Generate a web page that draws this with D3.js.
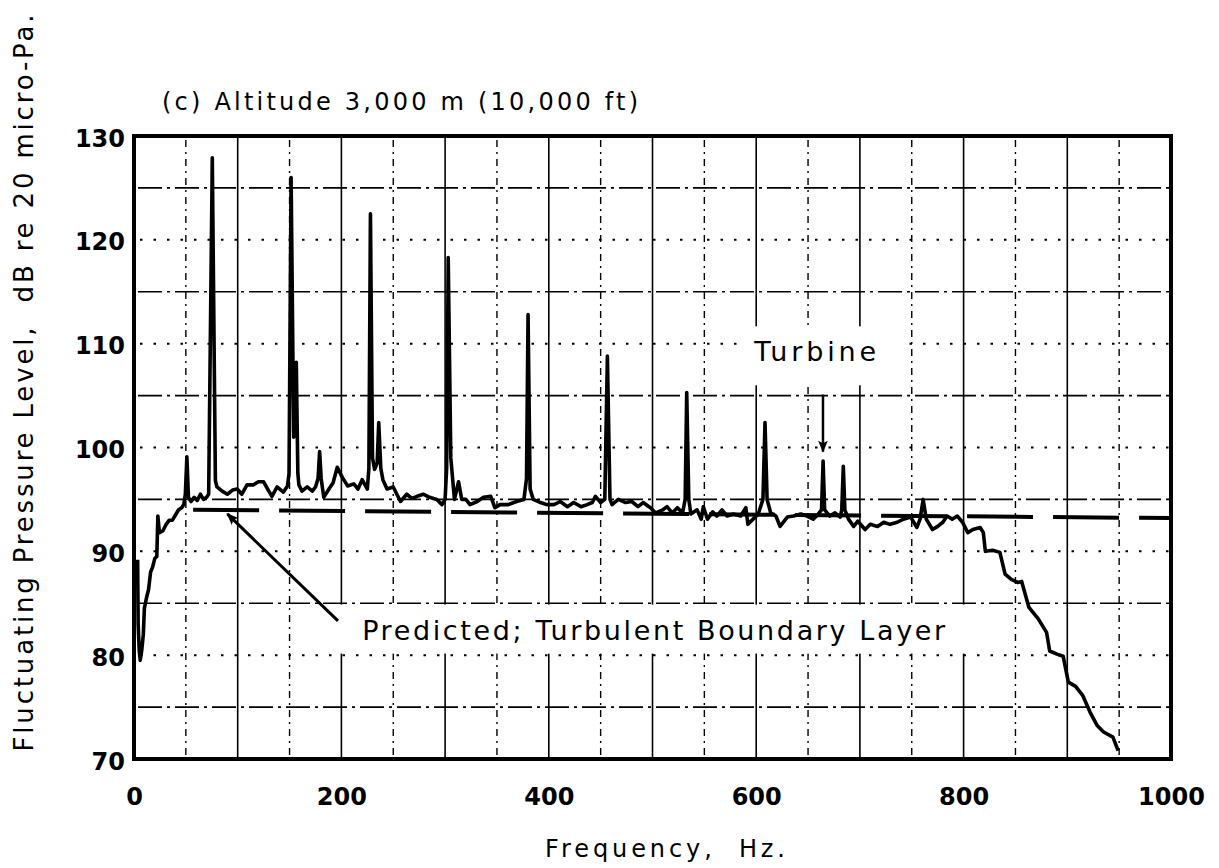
<!DOCTYPE html>
<html>
<head>
<meta charset="utf-8">
<script src="https://cdn.jsdelivr.net/npm/d3@7"></script>
<style>
  html, body { margin: 0; padding: 0; background: #fff; }
  svg { display: block; }
  text { font-family: "DejaVu Sans", sans-serif; fill: #000; }
</style>
</head>
<body>
<svg id="chart" width="1219" height="868"></svg>
<script>
// ---- data ----
const freqHz = [
  3.5, 4, 5, 6, 7.5, 9, 10, 12, 14, 16, 18, 20, 22, 23, 24.5, 28, 31, 34, 37, 40, 43, 46, 48, 49.5,
  51, 52.5, 55, 58, 61, 64, 67, 70, 72, 75.5, 78.5, 80, 85, 90, 95, 99.5, 104, 109, 115, 120, 125,
  130, 133, 138, 144, 148, 149.5, 151.5, 154, 155, 156.5, 158, 159, 162, 167, 172, 175, 177.5, 179,
  180.5, 183, 188, 192, 196, 201, 206, 212, 216, 220, 225, 226.5, 228, 230, 232, 234.5, 236, 238,
  240, 244, 250, 257, 263, 268, 273, 279, 285, 292, 297, 300, 301.5, 303, 305.5, 309, 313, 316,
  320, 324, 331, 337, 344, 348, 353, 361, 369, 376, 378.5, 380, 382, 385, 392, 398, 405, 411, 418,
  424, 431, 437, 442, 445, 450, 454, 456.5, 459, 461, 467, 474, 480, 486, 491, 498, 503, 510, 514,
  519, 524, 529, 531.5, 533, 535, 537, 543, 547, 549, 553, 558, 562, 567, 572, 578, 585, 590, 592,
  597, 602, 606.5, 608.5, 610.5, 614, 619, 623, 630, 636, 643, 649, 655, 660, 663, 664.5, 666, 671,
  676, 681, 682.5, 684, 685.5, 689, 694, 698, 705, 710, 717, 723, 729, 736, 742, 749, 755, 758,
  761, 764, 770, 775, 780, 784, 789, 794, 799, 804, 809, 816, 819, 821, 828, 835, 840, 846, 852,
  856, 863, 872, 880, 883, 890, 896, 901, 908, 915, 922, 929, 935, 944, 949
];
const levelDb = [
  89.2, 83.0, 80.5, 79.5, 80.5, 82.0, 84.5, 85.5, 86.3, 88.0, 88.5, 89.3, 89.5, 93.4, 91.8, 92.0, 92.6, 93.0, 93.0, 93.5, 94.0, 94.2, 94.5, 95.5,
  99.1, 95.2, 94.8, 95.2, 94.9, 95.5, 95.0, 95.2, 95.5, 127.9, 96.8, 96.2, 95.8, 95.5, 95.9, 96.0, 95.5, 96.4, 96.4, 96.7, 96.7,
  95.8, 95.3, 96.2, 95.7, 96.3, 97.5, 126.0, 101.0, 102.5, 108.2, 97.5, 96.4, 95.8, 96.2, 95.8, 96.2, 97.0, 99.6,
  97.0, 95.2, 96.0, 96.6, 98.1, 97.1, 96.3, 96.5, 96.0, 96.9, 96.0, 98.0, 122.5, 99.0, 97.9, 98.5, 102.4, 98.0,
  96.9, 96.0, 96.2, 94.8, 95.5, 95.1, 95.3, 95.5, 95.2, 95.0, 94.5, 95.0, 98.0, 118.3, 99.0, 95.0, 96.7, 95.0,
  95.0, 94.5, 94.8, 95.2, 95.3, 94.2, 94.5, 94.5, 94.8, 95.0, 97.0, 112.8, 96.0, 95.0, 94.7, 94.5, 94.5, 94.8, 94.3,
  94.7, 94.3, 94.5, 94.7, 95.3, 94.7, 95.0, 108.8, 95.0, 94.5, 95.0, 94.7, 94.8, 94.3, 94.7, 94.2, 93.7, 94.0, 94.3,
  93.7, 94.2, 93.7, 95.0, 105.3, 95.0, 93.6, 94.0, 93.1, 94.3, 93.1, 93.8, 93.4, 94.0, 93.4, 93.6, 93.4, 94.2, 92.6,
  93.1, 93.6, 95.0, 102.4, 95.0, 93.7, 93.4, 92.4, 93.3, 93.4, 93.6, 93.4, 93.1, 93.6, 94.0, 98.7, 94.0, 93.4,
  93.7, 93.3, 94.0, 98.2, 94.0, 93.1, 92.4, 92.9, 92.1, 92.6, 92.4, 92.8, 92.6, 92.8, 93.1, 93.3, 92.3, 93.1,
  95.0, 93.1, 92.1, 92.4, 92.8, 93.4, 93.1, 93.4, 92.8, 91.8, 92.1, 92.3, 91.8, 90.0, 90.1, 89.9, 87.8, 87.3, 87.0,
  87.1, 84.6, 83.5, 82.2, 80.4, 80.1, 79.9, 77.4, 77.0, 76.1, 74.5, 73.2, 72.6, 72.1, 70.8
];

// predicted turbulent boundary layer level
const predictedHz = [57, 1000];
const predictedDb = [94.0, 93.2];

const xTicks = [0, 200, 400, 600, 800, 1000];
const yTicks = [70, 80, 90, 100, 110, 120, 130];
const gridHzSolid = [100, 200, 300, 400, 500, 600, 700, 800, 900];
const gridHzDash = [50, 150, 250, 350, 450, 550, 650, 750, 850, 950];
const gridDbDotted = [80, 90, 100, 110, 120];
const gridDbDash = [75, 85, 95, 105, 115, 125];

const titleText = '(c) Altitude 3,000 m (10,000 ft)';
const yTitle = 'Fluctuating Pressure Level,  dB re 20 micro-Pa.';
const xTitle = 'Frequency,  Hz.';

// annotation anchors, in data units
const turbineLabel = { text: 'Turbine', hz: 598, db: 108.3 };
const turbineArrow = { hz: 664.4, from: 105.1, to: 99.6 };
const tblLabel = { text: 'Predicted; Turbulent Boundary Layer', hz: 220, db: 81.5 };
const tblArrow = { fromHz: 196.7, fromDb: 83.3, toHz: 90, toDb: 93.6 };

// ---- drawing ----
const svg = d3.select('#chart');
const x = d3.scaleLinear().domain([0, 1000]).range([134, 1171]);
const y = d3.scaleLinear().domain([70, 130]).range([759, 136]);

const defs = svg.append('defs');
defs.append('marker')
  .attr('id', 'head')
  .attr('viewBox', '0 0 10 10')
  .attr('refX', 9).attr('refY', 5)
  .attr('markerUnits', 'userSpaceOnUse')
  .attr('markerWidth', 16).attr('markerHeight', 12)
  .attr('orient', 'auto')
  .append('path').attr('d', 'M0,1 L10,5 L0,9 L2,5 Z').attr('fill', '#000');

// grid
const grid = svg.append('g');
grid.selectAll('.vs').data(gridHzSolid).enter().append('line')
  .attr('x1', d => x(d)).attr('x2', d => x(d))
  .attr('y1', y(130)).attr('y2', y(70))
  .attr('stroke', '#000').attr('stroke-width', 1.6);
grid.selectAll('.vd').data(gridHzDash).enter().append('line')
  .attr('x1', d => x(d)).attr('x2', d => x(d))
  .attr('y1', y(130) + 4).attr('y2', y(70))
  .attr('stroke', '#000').attr('stroke-width', 1.4)
  .attr('stroke-dasharray', '7,5,2,5');
grid.selectAll('.hd').data(gridDbDash).enter().append('line')
  .attr('x1', x(0) + 4).attr('x2', x(1000))
  .attr('y1', d => y(d)).attr('y2', d => y(d))
  .attr('stroke', '#000').attr('stroke-width', 1.7)
  .attr('stroke-dasharray', '24,5,3,5');
grid.selectAll('.ht').data(gridDbDotted).enter().append('line')
  .attr('x1', x(0) + 6).attr('x2', x(1000))
  .attr('y1', d => y(d)).attr('y2', d => y(d))
  .attr('stroke', '#000').attr('stroke-width', 2)
  .attr('stroke-dasharray', '2.5,11');

// label text blocks: white boxes knock out the grid behind them
const labels = svg.append('g');
function addLabel(lab, size, len, pad) {
  const g = labels.append('g');
  const box = g.append('rect').attr('fill', '#fff');
  const t = g.append('text')
    .attr('x', x(lab.hz)).attr('y', y(lab.db))
    .style('font-size', size + 'px')
    .attr('textLength', len).attr('lengthAdjust', 'spacing')
    .text(lab.text);
  const b = t.node().getBBox();
  box.attr('x', b.x - pad[3]).attr('y', b.y - pad[0])
    .attr('width', b.width + pad[1] + pad[3]).attr('height', b.height + pad[0] + pad[2]);
}
addLabel(turbineLabel, 27, 122, [10, 30, 18, 10]);
addLabel(tblLabel, 27, 583, [10, 43, 8, 45]);

// frame
svg.append('rect')
  .attr('x', x(0)).attr('y', y(130))
  .attr('width', x(1000) - x(0)).attr('height', y(70) - y(130))
  .attr('fill', 'none').attr('stroke', '#000').attr('stroke-width', 4);

// predicted line
const line = d3.line().x(d => x(d[0])).y(d => y(d[1]));
svg.append('path')
  .datum(predictedHz.map((f, i) => [f, predictedDb[i]]))
  .attr('d', line)
  .attr('fill', 'none').attr('stroke', '#000').attr('stroke-width', 4)
  .attr('stroke-dasharray', '66,20');

// measured spectrum
svg.append('path')
  .datum(freqHz.map((f, i) => [f, levelDb[i]]))
  .attr('d', line)
  .attr('fill', 'none').attr('stroke', '#000').attr('stroke-width', 3.6)
  .attr('stroke-linejoin', 'round');

// arrows
svg.append('line')
  .attr('x1', x(turbineArrow.hz)).attr('x2', x(turbineArrow.hz))
  .attr('y1', y(turbineArrow.from)).attr('y2', y(turbineArrow.to))
  .attr('stroke', '#000').attr('stroke-width', 2.5)
  .attr('marker-end', 'url(#head)');
svg.append('line')
  .attr('x1', x(tblArrow.fromHz)).attr('y1', y(tblArrow.fromDb))
  .attr('x2', x(tblArrow.toHz)).attr('y2', y(tblArrow.toDb))
  .attr('stroke', '#000').attr('stroke-width', 3)
  .attr('marker-end', 'url(#head)');

// axes
const xAxis = svg.append('g')
  .attr('transform', `translate(0,${y(70)})`)
  .call(d3.axisBottom(x).tickValues(xTicks).tickSize(0).tickPadding(29).tickFormat(d3.format('d')));
const yAxis = svg.append('g')
  .attr('transform', `translate(${x(0)},0)`)
  .call(d3.axisLeft(y).tickValues(yTicks).tickSize(0).tickPadding(9).tickFormat(d3.format('d')));
[xAxis, yAxis].forEach(a => {
  a.select('.domain').remove();
  a.selectAll('text')
    .style('font-family', '"DejaVu Sans", sans-serif')
    .style('font-size', '24px')
    .style('font-weight', 'bold')
    .attr('fill', '#000');
});
yAxis.selectAll('text').attr('dy', '0.42em');

// titles
svg.append('text')
  .attr('x', 162).attr('y', 110)
  .style('font-size', '24px')
  .attr('textLength', 476).attr('lengthAdjust', 'spacing')
  .text(titleText);

svg.append('text')
  .attr('transform', 'translate(33,383) rotate(-90)')
  .attr('text-anchor', 'middle')
  .style('font-size', '26px')
  .style('white-space', 'pre')
  .attr('textLength', 737).attr('lengthAdjust', 'spacing')
  .text(yTitle);

svg.append('text')
  .attr('x', 665).attr('y', 857)
  .attr('text-anchor', 'middle')
  .style('font-size', '24px')
  .style('white-space', 'pre')
  .attr('textLength', 240).attr('lengthAdjust', 'spacing')
  .text(xTitle);
</script>
</body>
</html>
